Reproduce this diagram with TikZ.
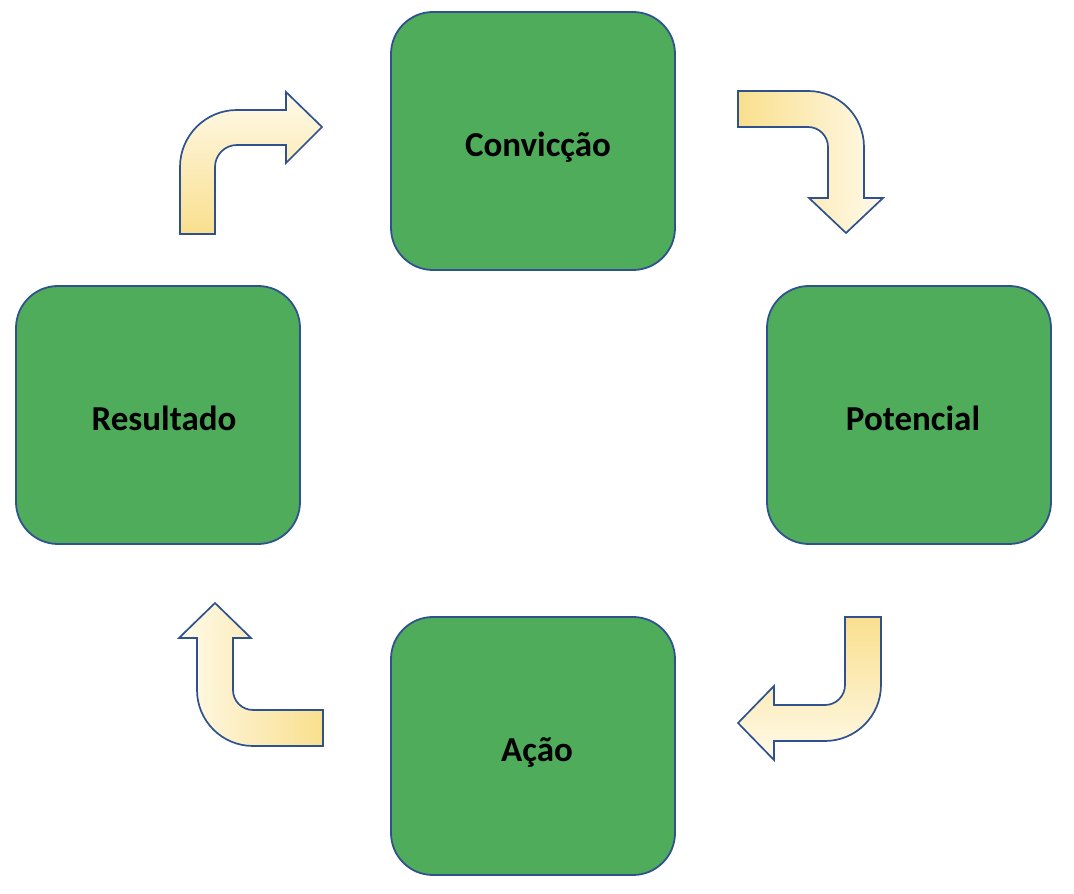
\documentclass[tikz,border=0pt]{standalone}
\usepackage{fontspec}
\setmainfont{Carlito}
\definecolor{boxgreen}{HTML}{4FAC5B}
\definecolor{edgeblue}{HTML}{2F528F}
\definecolor{arrowyellow}{HTML}{F9DF8E}
\definecolor{arrowlight}{HTML}{FFFAEA}
\tikzset{
  box/.style={draw=edgeblue, line width=1.8pt, fill=boxgreen, rounded corners=42pt,
    minimum width=284pt, minimum height=258pt, inner sep=0pt},
  lbl/.style={anchor=base, inner sep=0pt, font=\fontsize{35}{40}\selectfont\bfseries},
  bent/.style={draw=edgeblue, line width=1.7pt, line join=miter}
}
\begin{document}
\begin{tikzpicture}[x=1pt,y=1pt]
\useasboundingbox (0,0) rectangle (1074,894);
% boxes
\node[box] (conv) at (533,753) {};
\node[box] (pot)  at (909,479) {};
\node[box] (res)  at (158,479) {};
\node[box] (acao) at (533,148) {};
\node[lbl] (tconv) at (538,737) {Convicção};
\node[lbl] (tpot)  at (913,463) {Potencial};
\node[lbl] (tres)  at (164,463) {Resultado};
\node[lbl] (tacao) at (537,132) {Ação};
% arrow 1: Resultado -> Convicção
\path[bent, bottom color=arrowyellow, top color=arrowlight]
  (180,660) -- (180,727) arc[start angle=180, end angle=90, radius=57pt]
  -- (286,784) -- (286,802) -- (322,767) -- (286,731) -- (286,749)
  -- (237,749) arc[start angle=90, end angle=180, radius=22pt] -- (215,660) -- cycle;
% arrow 2: Convicção -> Potencial
\path[bent, left color=arrowyellow, right color=arrowlight]
  (738,767) -- (738,803) -- (808,803) arc[start angle=90, end angle=0, radius=56pt]
  -- (864,696) -- (883,696) -- (846,661) -- (809,696) -- (828,696)
  -- (828,747) arc[start angle=0, end angle=90, radius=20pt] -- cycle;
% arrow 3: Potencial -> Ação
\path[bent, top color=arrowyellow, bottom color=arrowlight]
  (845,277) -- (881,277) -- (881,209) arc[start angle=0, end angle=-90, radius=56pt]
  -- (774,153) -- (774,134) -- (738,171) -- (774,208) -- (774,189)
  -- (825,189) arc[start angle=-90, end angle=0, radius=20pt] -- cycle;
% arrow 4: Ação -> Resultado
\path[bent, right color=arrowyellow, left color=arrowlight]
  (323,148) -- (323,184) -- (253,184) arc[start angle=270, end angle=180, radius=20pt]
  -- (233,256) -- (251,256) -- (215,291) -- (179,256) -- (197,256)
  -- (197,204) arc[start angle=180, end angle=270, radius=56pt] -- cycle;
\end{tikzpicture}
\end{document}
